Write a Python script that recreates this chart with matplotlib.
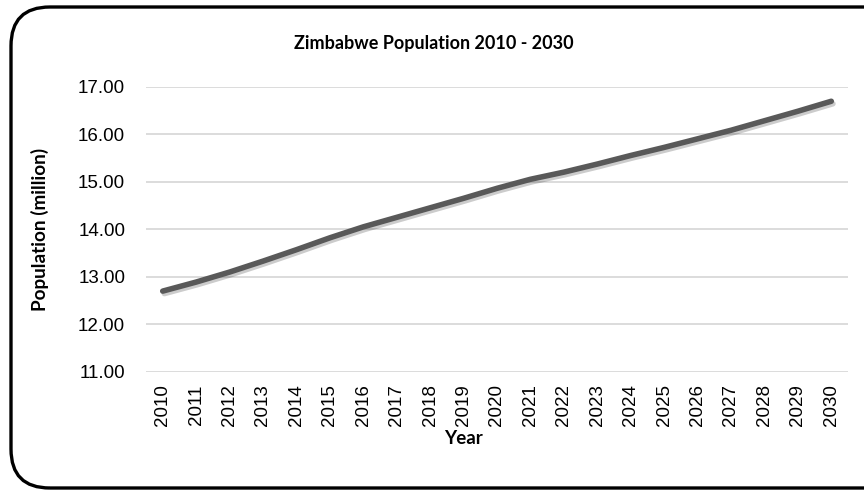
import matplotlib
matplotlib.use("Agg")
import matplotlib.pyplot as plt
import matplotlib.patheffects as pe
from matplotlib.patches import FancyBboxPatch

# Zimbabwe population projection, millions
years = [str(y) for y in range(2010, 2031)]
population = [12.70, 12.89, 13.10, 13.33, 13.57, 13.82, 14.05, 14.25, 14.45, 14.65,
              14.86, 15.05, 15.20, 15.37, 15.55, 15.72, 15.90, 16.08, 16.28, 16.48,
              16.69]
y_ticks = [11, 12, 13, 14, 15, 16, 17]

fig = plt.figure(figsize=(8.64, 4.92), dpi=100)

# rounded frame around the whole chart
frame = FancyBboxPatch((11 / 864, 4 / 492), 900 / 864, 481 / 492,
                       boxstyle="round,pad=0,rounding_size=0.045",
                       transform=fig.transFigure, fill=False,
                       edgecolor="black", linewidth=2.4, mutation_aspect=864 / 492)
fig.patches.append(frame)

ax = fig.add_axes([146 / 864, 1 - 372 / 492, 702 / 864, (372 - 86.5) / 492])

x = range(len(years))
ax.plot(x, population, color="#595959", linewidth=4.0, solid_capstyle="round",
        path_effects=[pe.SimpleLineShadow(offset=(1.2, -1.8), shadow_color="black", alpha=0.2),
                      pe.Normal()])

ax.set_xlim(-0.5, len(years) - 0.5)
ax.set_ylim(11, 17)
ax.set_yticks(y_ticks)
ax.set_yticklabels([f"{v:.2f}" for v in y_ticks])
ax.set_xticks(list(x))
ax.set_xticklabels(years, rotation=90)

ax.grid(axis="y", color="#d9d9d9", linewidth=1.3)
ax.set_axisbelow(True)
for s in ax.spines.values():
    s.set_visible(False)
ax.tick_params(length=0, labelsize=13.5, colors="black")
ax.tick_params(axis="y", pad=15)
ax.tick_params(axis="x", pad=9)
for lbl in ax.get_xticklabels() + ax.get_yticklabels():
    lbl.set_family("Liberation Sans")

fig.text(434 / 864, 1 - 43 / 492, "Zimbabwe Population 2010 - 2030",
         ha="center", va="center", fontsize=13, fontweight="bold", family="Lato")
fig.text(40 / 864, 1 - 229 / 492, "Population (million)", rotation=90,
         ha="center", va="center", fontsize=13.6, fontweight="bold", family="Lato")
fig.text(463 / 864, 1 - 438 / 492, "Year", ha="center", va="center",
         fontsize=13.5, fontweight="bold", family="Lato")

fig.savefig("out.png", dpi=100)
